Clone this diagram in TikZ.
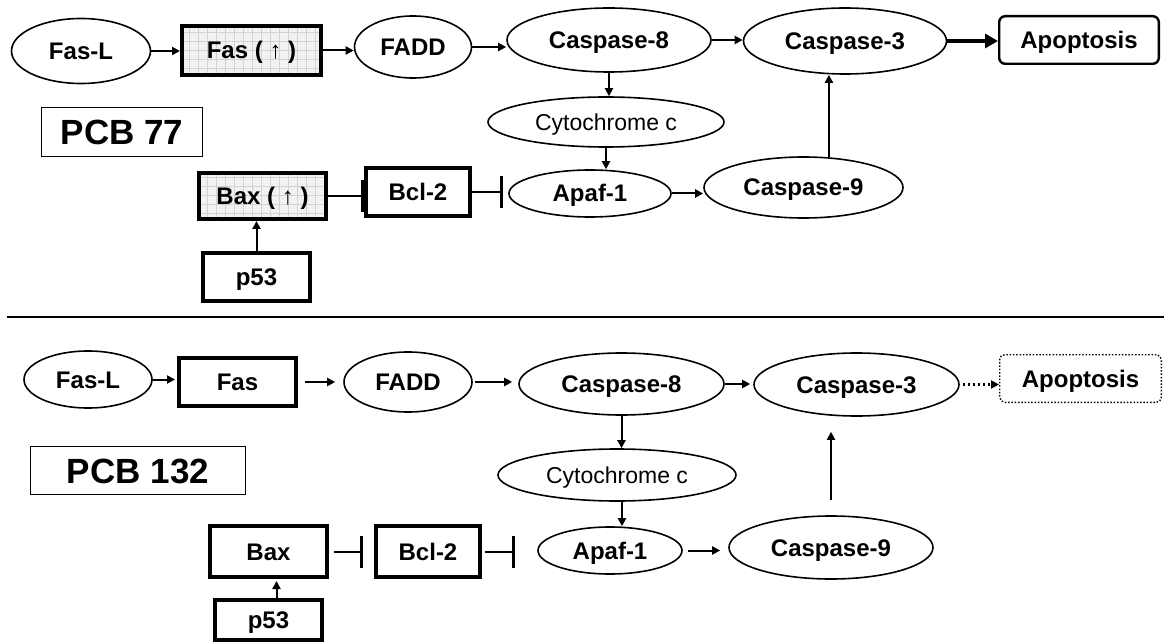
\documentclass[tikz,border=0pt]{standalone}
\usepackage{fontspec}
\setmainfont{Liberation Sans}
\usetikzlibrary{shapes.geometric,arrows.meta}
\begin{document}
\begin{tikzpicture}[x=1pt,y=-1pt,
 lab/.style={font=\fontsize{24}{28}\selectfont\bfseries, text height=17pt, text depth=0pt},
 sz/.style 2 args={minimum width=#1pt, minimum height=#2pt},
 ell/.style={ellipse, draw, line width=1.6pt, inner sep=0pt, lab},
 tbox/.style={rectangle, draw, line width=3.6pt, inner sep=0pt, lab},
 meshfill/.style={fill=gray!10, path picture={\draw[gray!35, line width=0.4pt, step=9pt] (path picture bounding box.south west) grid (path picture bounding box.north east);}},
 cyt/.style={ellipse, draw, line width=1.6pt, inner sep=0pt, font=\fontsize{23}{27}\selectfont, text height=16.5pt, text depth=0pt},
 pcb/.style={rectangle, draw, line width=1.2pt, inner sep=0pt, font=\fontsize{35}{40}\selectfont\bfseries, text height=25pt, text depth=0pt},
 arr/.style={line width=2pt, -{Triangle[length=8pt,width=8pt]}},
 bigarr/.style={line width=4pt, -{Triangle[length=13pt,width=14pt]}},
 dotarr/.style={line width=2.4pt, dash pattern=on 2.5pt off 2.5pt, -{Triangle[length=8pt,width=8pt]}},
 inh/.style={line width=2pt, -{Bar[width=32pt,line width=2.8pt]}},
]
\fill[white] (0,0) rectangle (1164,644);
\useasboundingbox (0,0) rectangle (1164,644);

% ---------- top panel (PCB 77) ----------
\node[ell, sz={139}{65}] (fasL1) at (81,51) {Fas-L};
\node[tbox, meshfill, sz={139.4}{49.4}] (fas1) at (251.5,50.5) {Fas ( {\mdseries ↑} )};
\node[ell, sz={117}{62}] (fadd1) at (413,47) {FADD};
\node[ell, sz={204}{64}] (casp8a) at (609,40) {Caspase-8};
\node[ell, sz={203}{66}] (casp3a) at (845,41) {Caspase-3};
\node[rectangle, draw, line width=2.4pt, rounded corners=6pt, inner sep=0pt, lab, sz={159.6}{47.6}] (apop1) at (1079,40) {Apoptosis};
\node[pcb, sz={161}{49}] (pcb77) at (122,132) {PCB 77};
\node[cyt, sz={236}{50}] (cyto1) at (606,122) {Cytochrome c};
\node[ell, sz={162}{47}] (apaf1) at (590,193.5) {Apaf-1};
\node[ell, sz={199}{61}] (casp9a) at (803.5,187.5) {Caspase-9};
\node[tbox, meshfill, sz={127.4}{46.4}] (bax1) at (262.5,196) {Bax ( {\mdseries ↑} )};
\node[tbox, sz={104.4}{48.4}] (bcl1) at (418,192) {Bcl-2};
\node[tbox, sz={107.4}{48.4}] (p53a) at (256.5,277) {p53};

\draw[arr] (fasL1.east) -- (fasL1.east -| fas1.west);
\draw[arr] (fas1.east) -- (fas1.east -| fadd1.west);
\draw[arr] (fadd1.east) -- (fadd1.east -| casp8a.west);
\draw[arr] (casp8a.east) -- (casp8a.east -| casp3a.west);
\draw[bigarr] (casp3a.east) -- (casp3a.east -| apop1.west);
\draw[arr] (casp8a.south) -- (casp8a.south |- cyto1.north);
\draw[arr] (cyto1.south) -- (cyto1.south |- apaf1.north);
\draw[arr] (apaf1.east) -- (apaf1.east -| casp9a.west);
\draw[arr] (casp9a.50) -- (casp9a.50 |- casp3a.south);
\draw[inh, line width=2.2pt, -{Bar[width=32pt,line width=3.5pt]}] (bax1.east) -- (bax1.east -| bcl1.west);
\draw[inh, shorten >=5pt] (bcl1.east) -- (bcl1.east -| apaf1.west);
\draw[arr] (p53a.north) -- (p53a.north |- bax1.south);

% ---------- separator ----------
\coordinate (sepL) at (7,317);
\coordinate (sepR) at (1164,317);
\draw[line width=2pt] (sepL) -- (sepR);

% ---------- bottom panel (PCB 132) ----------
\node[ell, sz={128}{57}] (fasL2) at (88,379.5) {Fas-L};
\node[tbox, sz={117.4}{48.4}] (fas2) at (237.5,382) {Fas};
\node[ell, sz={128}{60}] (fadd2) at (408,382) {FADD};
\node[ell, sz={205}{62}] (casp8b) at (621.5,384) {Caspase-8};
\node[ell, sz={205}{63}] (casp3b) at (856.5,384.5) {Caspase-3};
\node[rectangle, draw, line width=1.4pt, dash pattern=on 1.5pt off 1.8pt, rounded corners=5pt, inner sep=0pt, lab, sz={161.6}{47.6}] (apop2) at (1080.5,378.5) {Apoptosis};
\node[pcb, sz={215}{48}] (pcb132) at (138,470.5) {PCB 132};
\node[cyt, sz={238}{52}] (cyto2) at (617,475) {Cytochrome c};
\node[ell, sz={144}{47}] (apaf2) at (610,550.5) {Apaf-1};
\node[ell, sz={204}{63}] (casp9b) at (831,547.5) {Caspase-9};
\node[tbox, sz={117.4}{51.4}] (bax2) at (268.5,551.5) {Bax};
\node[tbox, sz={104.4}{51.4}] (bcl2) at (428,551.5) {Bcl-2};
\node[tbox, sz={107.4}{40.4}] (p53b) at (268.5,620) {p53};

\draw[arr, shorten >=2pt] (fasL2.east) -- (fasL2.east -| fas2.west);
\draw[arr, shorten <=7pt, shorten >=8pt] (fas2.east) -- (fas2.east -| fadd2.west);
\draw[arr, shorten <=2pt, shorten >=6pt] (fadd2.east) -- (fadd2.east -| casp8b.west);
\draw[arr, line width=2.6pt, shorten >=3pt] (casp8b.east) -- (casp8b.east -| casp3b.west);
\draw[dotarr, shorten <=3pt] (casp3b.east) -- (casp3b.east -| apop2.west);
\draw[arr] (casp8b.south) -- (casp8b.south |- cyto2.north);
\draw[arr] ([xshift=5pt]cyto2.south) -- ([xshift=5pt]cyto2.south |- apaf2.north);
\draw[arr, shorten <=5pt, shorten >=8pt] (apaf2.east) -- (apaf2.east -| casp9b.west);
\draw[arr, line width=2.2pt, shorten <=15pt, shorten >=15pt] (casp9b.north) -- (casp9b.north |- casp3b.south);
\draw[inh, shorten <=5pt, shorten >=11pt] (bax2.east) -- (bax2.east -| bcl2.west);
\draw[inh, shorten <=3pt, shorten >=22pt] (bcl2.east) -- (bcl2.east -| apaf2.west);
\draw[arr, shorten >=2pt] ([xshift=8pt]p53b.north) -- ([xshift=8pt]p53b.north |- bax2.south);
\end{tikzpicture}
\end{document}
